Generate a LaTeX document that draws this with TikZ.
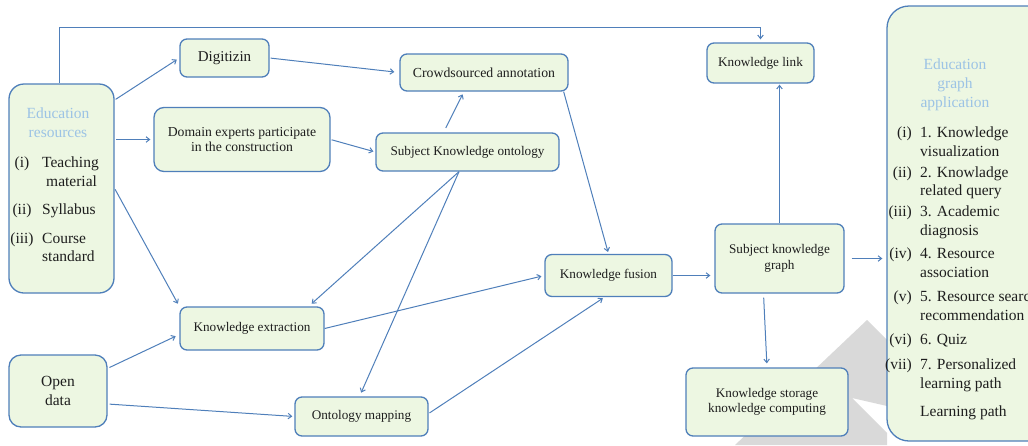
\documentclass[tikz,border=0pt]{standalone}
\usepackage{fontspec}
\setmainfont{Liberation Serif}
\usetikzlibrary{arrows.meta}

\definecolor{edge}{HTML}{4F7FBA}
\definecolor{boxfill}{HTML}{EDF7E2}
\definecolor{titleblue}{HTML}{9CC3E5}
\definecolor{ink}{HTML}{1E1E1E}
\definecolor{wmgray}{HTML}{D9D9D9}

\newcommand\kgSmall{\fontsize{13.2}{15.6}\selectfont}
\newcommand\kgBig{\fontsize{15.5}{19}\selectfont}

% box from corner (x1,y1) to corner (x2,y2)
\newcommand\kbox[7]{%
  \node[#6, minimum width={#4-#2}, minimum height={#5-#3}] (#1)
    at ({(#2+#4)/2},{(#3+#5)/2}) {#7};}

\begin{document}
\begin{tikzpicture}[x=1pt,y=-1pt,
  kb/.style={draw=edge, fill=boxfill, line width=1.3pt, rounded corners=7pt,
             inner sep=0pt, align=center, text=ink, font=\kgSmall},
  bigbox/.style={kb, rounded corners=15pt, font=\kgBig},
  arr/.style={draw=edge, line width=1pt, -{Straight Barb[length=3.5pt,width=5.5pt]}},
  ttl/.style={text=titleblue, font=\kgBig, anchor=base, inner sep=0pt},
  lab/.style={text=ink, font=\kgBig, inner sep=0pt},
]
\useasboundingbox (0,0) rectangle (1028,445);
\clip (0,0) rectangle (1028,445);

% background mark
\fill[wmgray] (735,445) -- (867,320) -- (920,373) -- (887,406) -- (852,398)
  -- (887,433) -- (887,445) -- cycle;

% boxes
\kbox{edu}{9}{84}{114}{293}{bigbox}{}
\kbox{dig}{180}{39}{269}{77}{kb, font=\fontsize{15}{18}\selectfont}{Digitizin}
\kbox{dom}{154}{107.5}{330}{171.5}{kb, rounded corners=10pt, font=\fontsize{13.7}{15.6}\selectfont}{Domain experts participate\\in the construction}
\kbox{crowd}{400}{54}{568}{91}{kb, font=\fontsize{13.8}{16}\selectfont}{Crowdsourced annotation}
\kbox{onto}{376}{133}{559}{171}{kb}{Subject Knowledge ontology}
\kbox{link}{707}{43}{814}{83}{kb}{Knowledge link}
\kbox{fus}{545}{254.5}{672}{296.5}{kb}{Knowledge fusion}
\kbox{graph}{715}{224}{844}{293}{kb}{Subject knowledge\\graph}
\kbox{store}{686}{368}{848}{436}{kb}{Knowledge storage\\knowledge computing}
\kbox{ke}{180}{307}{324}{350}{kb}{Knowledge extraction}
\kbox{open}{9}{355}{107}{427}{bigbox, rounded corners=12pt}{Open\\data}
\kbox{om}{295}{397}{428}{436}{kb}{Ontology mapping}
\kbox{app}{887}{6}{1050}{441}{bigbox, rounded corners=22pt}{}

% left list
\node[ttl] (eduT1) at (58,118) {Education};
\node[ttl] (eduT2) at (58,137) {resources};
\node[lab, anchor=base] (eduL1) at (22,167) {(i)};
\node[lab, anchor=base west] (eduI1a) at (42,167) {Teaching};
\node[lab, anchor=base west] (eduI1b) at (46,186) {material};
\node[lab, anchor=base] (eduL2) at (22,214) {(ii)};
\node[lab, anchor=base west] (eduI2) at (42,214) {Syllabus};
\node[lab, anchor=base] (eduL3) at (22,243) {(iii)};
\node[lab, anchor=base west] (eduI3a) at (42,243) {Course};
\node[lab, anchor=base west] (eduI3b) at (42,261) {standard};

% right list
\node[ttl] (appT1) at (955,69) {Education};
\node[ttl] (appT2) at (955,88) {graph};
\node[ttl] (appT3) at (955,107) {application};
\foreach \tag/\lbl/\yy in {a/(i)/137, b/(ii)/177, c/(iii)/216, d/(iv)/258,
                           e/(v)/301, f/(vi)/344, g/(vii)/369}
  \node[lab, anchor=base east] (appL\tag) at (912,\yy) {\lbl};
\foreach \tag/\txt/\yy in {a/1. Knowledge/137, a2/visualization/156,
    b/2. Knowladge/177, b2/related query/195,
    c/3. Academic/216, c2/diagnosis/235,
    d/4. Resource/258, d2/association/277,
    e/5. Resource search/301, e2/recommendation/320,
    f/6. Quiz/344,
    g/7. Personalized/369, g2/learning path/388,
    h/Learning path/416}
  \node[lab, anchor=base west] (appI\tag) at (920,\yy) {\txt};

% connectors
\coordinate (rail) at (0,27.5);
\draw[arr, shorten >=3pt] ([xshift=-2.5pt]edu.north) |- (rail -| link.north) -- (link.north);
\draw[arr, shorten >=3pt] ([shift={(1,16)}]edu.north east) -- (dig.west);
\draw[arr, shorten <=1.5pt, shorten >=3pt] (edu.east |- dom.west) -- (dom.west);
\draw[arr, shorten <=1pt, shorten >=3pt] (edu.east) -- (ke.north west);
\draw[arr, shorten <=1pt, shorten >=5pt] (dig.east) -- (crowd.west);
\draw[arr, shorten <=1pt, shorten >=2pt] (dom.east) -- (onto.west);
\draw[arr, shorten <=5pt, shorten >=3pt] ([xshift=-24pt]onto.north) -- ([xshift=-20pt]crowd.south);
\draw[arr, shorten >=4pt] ([xshift=-8.5pt]onto.south) -- ([xshift=-16pt]ke.north east);
\draw[arr, shorten >=4pt] ([xshift=-8.5pt]onto.south) -- ([xshift=-2pt]om.north);
\draw[arr, shorten >=2pt] ([xshift=-5pt]crowd.south east) -- (fus.north);
\draw[arr, shorten >=3pt] (ke.east) -- (fus.west);
\draw[arr, shorten <=2pt, shorten >=4pt] ([shift={(0,14)}]open.north east) -- ([shift={(0,6)}]ke.west);
\draw[arr, shorten <=2pt, shorten >=2pt] ([shift={(0,13)}]open.east) -- (om.west);
\draw[arr, shorten <=1pt, shorten >=2pt] ([shift={(0,-3)}]om.east) -- ([xshift=-4pt]fus.south);
\draw[arr, shorten >=4pt] (fus.east) -- (fus.east -| graph.west);
\draw[arr, shorten >=1pt] (graph.north) -- (link.south -| graph.north);
\draw[arr, shorten <=4pt, shorten >=4pt] ([xshift=-16pt]graph.south) -- (store.north);
\draw[arr, shorten <=7pt, shorten >=4pt] (graph.east) -- (graph.east -| app.west);
\end{tikzpicture}
\end{document}
